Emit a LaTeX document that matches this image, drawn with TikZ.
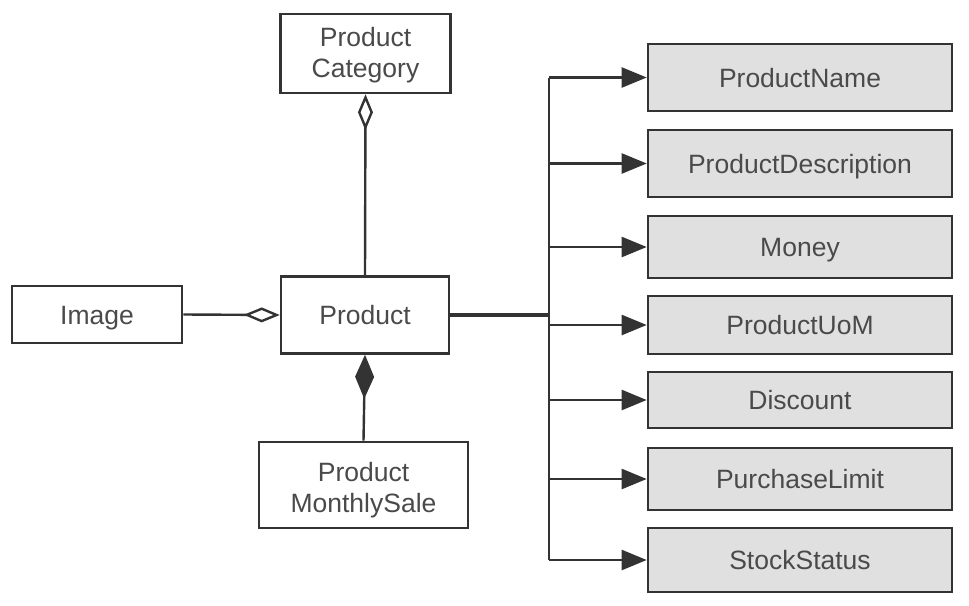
\documentclass[tikz,border=0pt]{standalone}
\usepackage{fontspec}
\setsansfont{Liberation Sans}
\usetikzlibrary{arrows.meta}
\newdimen\unitsize
\setlength{\unitsize}{1pt}
\definecolor{linegray}{HTML}{333333}
\definecolor{textgray}{HTML}{4A4A4A}
\definecolor{boxgray}{HTML}{E0E0E0}

\begin{document}
\begin{tikzpicture}[x=\unitsize,y=-\unitsize,
  every node/.style={font=\sffamily\fontsize{26.5}{31}\selectfont,
    text=textgray,inner sep=0pt},
  oneline/.style={text height=19pt,text depth=0pt},
  twoline/.style={align=center,text height=#1,text depth=2pt},
  cls/.style={draw=linegray,line width=2.6pt,fill=white},
  attr/.style={draw=linegray,line width=2.6pt,fill=boxgray,
    minimum width=304,oneline},
  link/.style={draw=linegray,line width=2.4pt}]
\useasboundingbox (0,0) rectangle (969,605);
\node[cls,oneline,minimum width=168,minimum height=77] (prod) at (365,315)
  {Product};
\node[cls,twoline=49pt,minimum width=170,minimum height=79] (cat)
  at (365.5,53.5) {Product\\Category};
\node[cls,oneline,minimum width=170,minimum height=57] (img) at (97,314.5)
  {Image};
\node[cls,twoline=56pt,minimum width=209,minimum height=86] (sale)
  at (363.5,485) {Product\\MonthlySale};
\foreach \nm/\txt/\yc/\bh in {name/ProductName/77.5/67,
    desc/ProductDescription/163.5/67,money/Money/247/62,
    uom/ProductUoM/325/58,disc/Discount/400/56,
    limit/PurchaseLimit/479/62,stock/StockStatus/560/64}{
  \node[attr,minimum height=\bh] (\nm) at (800,\yc) {\txt};
}
\coordinate (trunk) at (549,0);
% aggregation / composition
\draw[link,{Diamond[open,length=36,width=15,line width=2.4pt]}-]
  (cat.south) -- (prod.north);
\draw[link,-{Diamond[open,length=36,width=15,line width=2.4pt]}]
  (img.east) -- (prod.west);
\draw[link,{Diamond[length=44,width=19]}-] (prod.south) -- (sale.north);
% attributes
\draw[link,line width=3.6pt] (prod.east) -- (prod.east -| trunk);
\draw[link] (trunk |- name.west) -- (trunk |- stock.west);
\foreach \nm in {name,desc,money,uom,disc,limit,stock}{
  \draw[link,-{Triangle[length=25,width=20]}] (trunk |- \nm.west) -- (\nm.west);
}
\end{tikzpicture}
\end{document}
